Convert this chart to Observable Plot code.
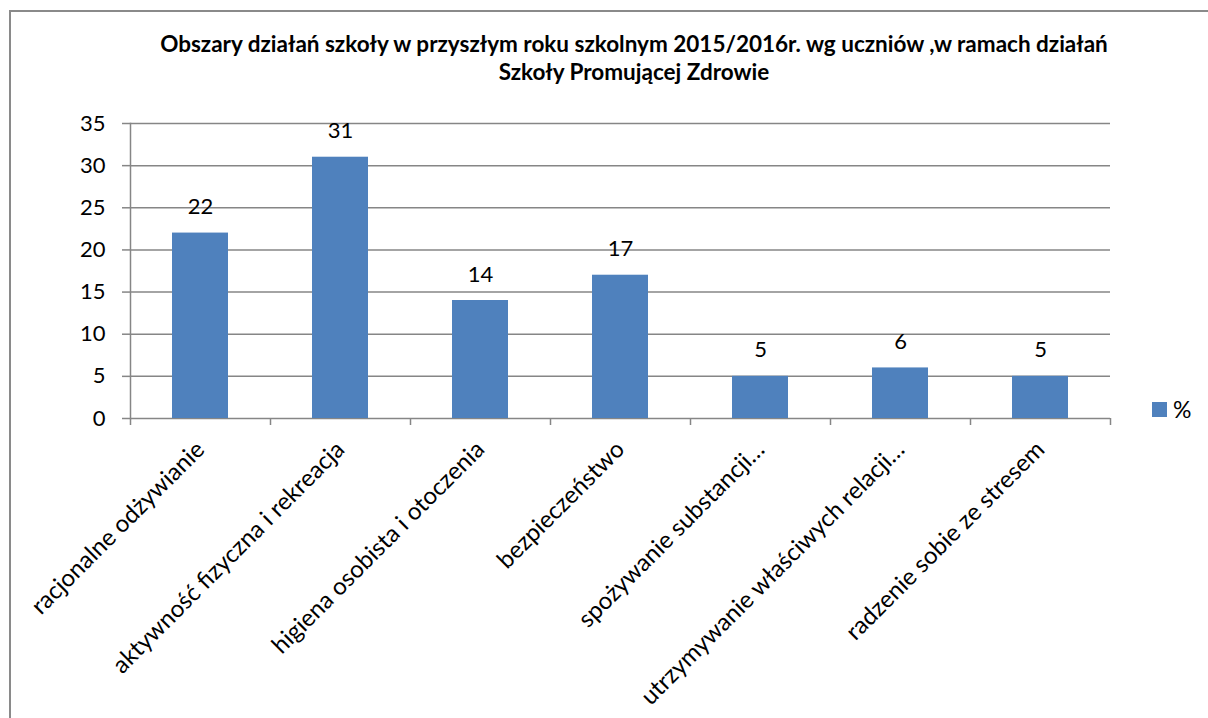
<!DOCTYPE html>
<html>
<head>
<meta charset="utf-8">
<script src="https://cdn.jsdelivr.net/npm/d3@7"></script>
<script src="https://cdn.jsdelivr.net/npm/@observablehq/plot@0.6"></script>
<style>
  html, body { margin: 0; padding: 0; background: #fff; overflow: hidden; width: 1208px; height: 718px; }
  #frame { position: absolute; left: 9px; top: 10px; width: 1300px; height: 800px; border: 2px solid #8a8a8a; box-sizing: border-box; }
  #title { position: absolute; left: 0; top: 30px; width: 1268px; text-align: center; font-family: Lato, sans-serif; font-weight: bold; font-size: 22.5px; line-height: 28px; color: #000; white-space: nowrap; }
  #chart { position: absolute; left: 0; top: 95px; }
  #legend { position: absolute; left: 1152px; top: 395px; font-family: Lato, sans-serif; font-size: 23px; color: #000; display: flex; align-items: center; }
  #legend .sw { width: 15px; height: 15px; background: #4F81BD; margin-right: 6px; }
</style>
</head>
<body>
<div id="frame"></div>
<div id="title">Obszary działań szkoły w przyszłym roku szkolnym 2015/2016r. wg uczniów ,w ramach działań<br>Szkoły Promującej Zdrowie</div>
<div id="chart"></div>
<div id="legend"><span class="sw"></span><span id="legtext"></span></div>
<script>
const categories = [
  "racjonalne odżywianie",
  "aktywność fizyczna i rekreacja",
  "higiena osobista i otoczenia",
  "bezpieczeństwo",
  "spożywanie substancji…",
  "utrzymywanie właściwych relacji…",
  "radzenie sobie ze stresem"
];
const values = [22, 31, 14, 17, 5, 6, 5];
const yTicks = [0, 5, 10, 15, 20, 25, 30, 35];
const seriesName = "%";

const data = categories.map((c, i) => ({category: c, value: values[i]}));
const gridColor = "#868686";
const barColor = "#4F81BD";

document.getElementById("legtext").textContent = seriesName;

const chart = Plot.plot({
  width: 1208,
  height: 623,
  marginLeft: 130,
  marginRight: 98,
  marginTop: 28,
  marginBottom: 300,
  style: {fontFamily: "Lato, sans-serif", fontSize: "22px", color: "#000", background: "transparent", overflow: "visible"},
  x: {domain: categories, padding: 0, label: null},
  y: {domain: [0, 35], label: null},
  marks: [
    Plot.gridY(yTicks, {stroke: gridColor, strokeOpacity: 1, strokeWidth: 1.5}),
    Plot.frame({anchor: "left", stroke: gridColor, strokeWidth: 1.5}),
    Plot.axisY(yTicks, {tickSize: 8, tickPadding: 17, stroke: gridColor, strokeWidth: 1.5, fill: "#000", fontSize: 22, label: null}),
    Plot.axisX(categories, {tickSize: 7, dx: -70, fill: "none", stroke: gridColor, strokeWidth: 1.5, label: null}),
    Plot.axisX([categories[categories.length - 1]], {tickSize: 7, dx: 70, fill: "none", stroke: gridColor, strokeWidth: 1.5, label: null}),
    Plot.axisX(categories, {tickSize: 0, tickRotate: -45, tickPadding: 27, fill: "#000", fontSize: 24, label: null}),
    Plot.barY(data, {x: "category", y: "value", fill: barColor, insetLeft: 42, insetRight: 42}),
    Plot.text(data, {x: "category", y: "value", text: d => String(d.value), dy: -26, fontSize: 22, fill: "#000"})
  ]
});
document.getElementById("chart").appendChild(chart);
</script>
</body>
</html>
